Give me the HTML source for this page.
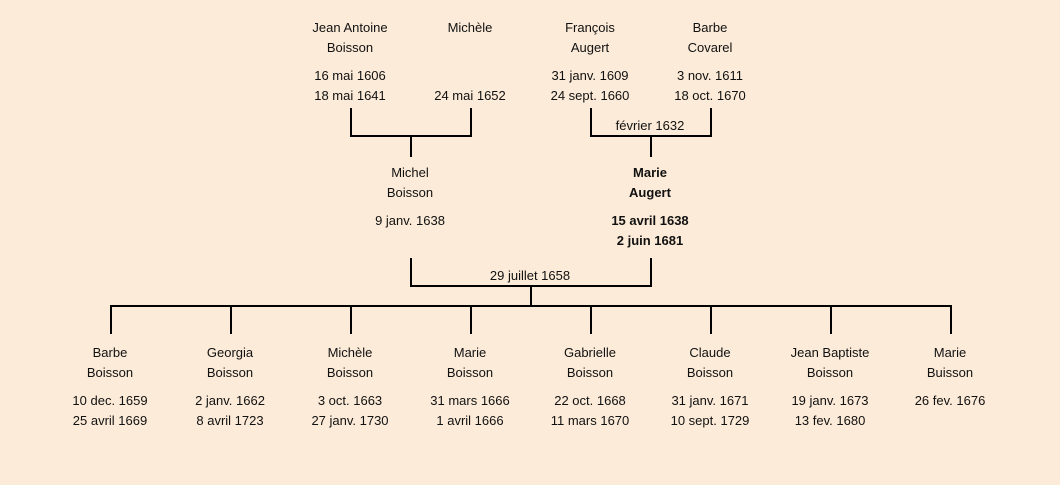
<!DOCTYPE html>
<html><head><meta charset="utf-8"><style>
body{margin:0;width:1060px;height:485px;background:#fcebd8;position:relative;overflow:hidden;font-family:"Liberation Sans","DejaVu Sans",sans-serif;font-size:13px;color:#111}
.t{position:absolute;width:160px;text-align:center;line-height:20px;white-space:nowrap;margin-top:1px}
.b{font-weight:bold}
.l{position:absolute;background:#000}
</style></head><body>
<div class="l" style="left:350px;top:108px;width:2px;height:29px"></div>
<div class="l" style="left:470px;top:108px;width:2px;height:29px"></div>
<div class="l" style="left:350px;top:135px;width:122px;height:2px"></div>
<div class="l" style="left:410px;top:135px;width:2px;height:22px"></div>
<div class="l" style="left:590px;top:108px;width:2px;height:29px"></div>
<div class="l" style="left:710px;top:108px;width:2px;height:29px"></div>
<div class="l" style="left:590px;top:135px;width:122px;height:2px"></div>
<div class="l" style="left:650px;top:135px;width:2px;height:22px"></div>
<div class="l" style="left:410px;top:258px;width:2px;height:29px"></div>
<div class="l" style="left:650px;top:258px;width:2px;height:29px"></div>
<div class="l" style="left:410px;top:285px;width:242px;height:2px"></div>
<div class="l" style="left:530px;top:285px;width:2px;height:22px"></div>
<div class="l" style="left:110px;top:305px;width:842px;height:2px"></div>
<div class="l" style="left:110px;top:305px;width:2px;height:29px"></div>
<div class="l" style="left:230px;top:305px;width:2px;height:29px"></div>
<div class="l" style="left:350px;top:305px;width:2px;height:29px"></div>
<div class="l" style="left:470px;top:305px;width:2px;height:29px"></div>
<div class="l" style="left:590px;top:305px;width:2px;height:29px"></div>
<div class="l" style="left:710px;top:305px;width:2px;height:29px"></div>
<div class="l" style="left:830px;top:305px;width:2px;height:29px"></div>
<div class="l" style="left:950px;top:305px;width:2px;height:29px"></div>
<div class="t" style="left:270px;top:17px">Jean Antoine<br>Boisson</div>
<div class="t" style="left:270px;top:65px">16 mai 1606<br>18 mai 1641</div>
<div class="t" style="left:390px;top:17px">Michèle</div>
<div class="t" style="left:390px;top:85px">24 mai 1652</div>
<div class="t" style="left:510px;top:17px">François<br>Augert</div>
<div class="t" style="left:510px;top:65px">31 janv. 1609<br>24 sept. 1660</div>
<div class="t" style="left:630px;top:17px">Barbe<br>Covarel</div>
<div class="t" style="left:630px;top:65px">3 nov. 1611<br>18 oct. 1670</div>
<div class="t" style="left:570px;top:115px">février 1632</div>
<div class="t" style="left:330px;top:162px">Michel<br>Boisson</div>
<div class="t" style="left:330px;top:210px">9 janv. 1638</div>
<div class="t b" style="left:570px;top:162px">Marie<br>Augert</div>
<div class="t b" style="left:570px;top:210px">15 avril 1638<br>2 juin 1681</div>
<div class="t" style="left:450px;top:265px">29 juillet 1658</div>
<div class="t" style="left:30px;top:342px">Barbe<br>Boisson</div>
<div class="t" style="left:30px;top:390px">10 dec. 1659<br>25 avril 1669</div>
<div class="t" style="left:150px;top:342px">Georgia<br>Boisson</div>
<div class="t" style="left:150px;top:390px">2 janv. 1662<br>8 avril 1723</div>
<div class="t" style="left:270px;top:342px">Michèle<br>Boisson</div>
<div class="t" style="left:270px;top:390px">3 oct. 1663<br>27 janv. 1730</div>
<div class="t" style="left:390px;top:342px">Marie<br>Boisson</div>
<div class="t" style="left:390px;top:390px">31 mars 1666<br>1 avril 1666</div>
<div class="t" style="left:510px;top:342px">Gabrielle<br>Boisson</div>
<div class="t" style="left:510px;top:390px">22 oct. 1668<br>11 mars 1670</div>
<div class="t" style="left:630px;top:342px">Claude<br>Boisson</div>
<div class="t" style="left:630px;top:390px">31 janv. 1671<br>10 sept. 1729</div>
<div class="t" style="left:750px;top:342px">Jean Baptiste<br>Boisson</div>
<div class="t" style="left:750px;top:390px">19 janv. 1673<br>13 fev. 1680</div>
<div class="t" style="left:870px;top:342px">Marie<br>Buisson</div>
<div class="t" style="left:870px;top:390px">26 fev. 1676</div>
</body></html>
